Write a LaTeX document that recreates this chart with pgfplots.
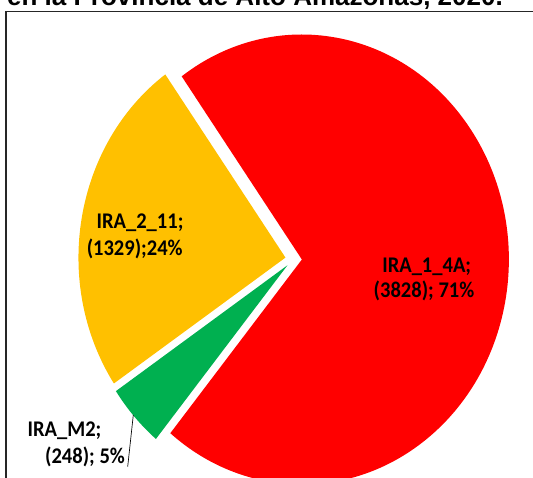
\documentclass[border=0pt]{standalone}
\usepackage{pgfplots}
\usepackage{pgfplotstable}
\pgfplotsset{compat=1.18}
\usepackage{graphicx}
\usepackage{fontspec}
\setmainfont{Carlito}
\newfontfamily\titlefont{Liberation Sans}
\definecolor{irared}{HTML}{FF0000}
\definecolor{iragold}{HTML}{FFC000}
\definecolor{iragreen}{HTML}{00B050}

% slices in clockwise order, as Excel draws them
\pgfplotstableread{
label    value
IRA_1_4A 3828
IRA_M2   248
IRA_2_11 1329
}\iradata

% #1 start angle, #2 end angle, #3 colour (explode 0.04)
\newcommand\slice[3]{%
  \pgfmathsetmacro\smid{(#1+#2)/2}%
  \pgfmathsetmacro\cx{0.04*cos(\smid)}%
  \pgfmathsetmacro\cy{0.04*sin(\smid)}%
  \pgfmathsetmacro\px{\cx+cos(#1)}%
  \pgfmathsetmacro\py{\cy+sin(#1)}%
  \edef\cmd{\noexpand\fill[#3] (axis cs:\cx,\cy) -- (axis cs:\px,\py)
    arc[start angle=#1, end angle=#2, x radius=155.25pt, y radius=168.75pt] -- cycle;}%
  \cmd
}
\newcommand\lbl[1]{\scalebox{1}[1.09]{#1}}

\begin{document}
\begin{tikzpicture}
\useasboundingbox (0,0) rectangle (399.75pt,358.5pt);
\clip (0,0) rectangle (399.75pt,358.5pt);

\pgfplotstablegetelem{0}{value}\of\iradata \let\va\pgfplotsretval
\pgfplotstablegetelem{1}{value}\of\iradata \let\vb\pgfplotsretval
\pgfplotstablegetelem{2}{value}\of\iradata \let\vc\pgfplotsretval
\pgfmathsetmacro\tot{(\va+\vb+\vc)/100}
\pgfmathsetmacro\aA{125.5}
\pgfmathsetmacro\aB{\aA-3.6*(\va/\tot)}
\pgfmathsetmacro\aC{\aB-3.6*(\vb/\tot)}
\pgfmathsetmacro\aD{\aC-3.6*(\vc/\tot)}

% axis box = whole picture, pie centre at (293.6, 259.2) px from top-left
\begin{axis}[
  scale only axis, width=399.75pt, height=358.5pt,
  xmin=-1.4184, xmax=1.1565, ymin=-0.9724, ymax=1.152,
  hide axis, clip=false,
  anchor=south west, at={(0pt,0pt)},
]
  \slice{\aA}{\aB}{irared}
  \slice{\aB}{\aC}{iragreen}
  \slice{\aC}{\aD}{iragold}
\end{axis}

\begin{scope}[x=0.75pt,y=0.75pt]
\node[anchor=base, font=\titlefont\bfseries\fontsize{19.5}{22}\selectfont]
  at (255,472) {en la Provincia de Alto Amazonas, 2020.};
\draw[line width=0.8pt, black!85] (6,-5) -- (6,466.3) -- (540,466.3);
\begin{scope}[every node/.style={anchor=base, font=\bfseries\fontsize{15.4}{18}\selectfont}]
  \node at (426.7,205.3) {\lbl{IRA\_1\_4A;}};
  \node at (424,180.7) {\lbl{(3828); 71\%}};
  \node at (140,249.3) {\lbl{IRA\_2\_11;}};
  \node at (134.7,222) {\lbl{(1329);24\%}};
  \node at (64.5,41.3) {\lbl{IRA\_M2;}};
  \node at (85,14) {\lbl{(248); 5\%}};
\end{scope}
\draw[line width=0.5pt] (127.7,11.3) -- (133.3,63);
\end{scope}
\end{tikzpicture}
\end{document}
